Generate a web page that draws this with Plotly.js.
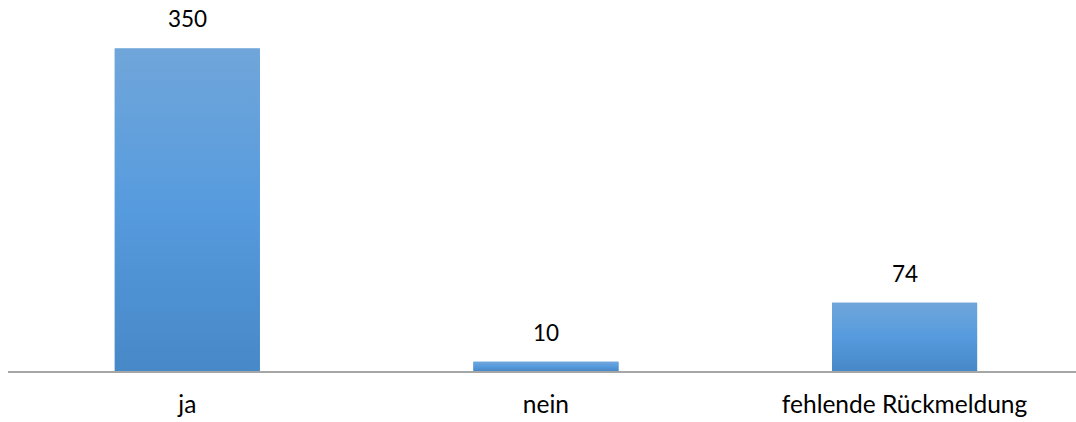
<!DOCTYPE html>
<html><head><meta charset="utf-8">
<script src="https://cdn.plot.ly/plotly-3.0.1.min.js"></script>
<style>html,body{margin:0;padding:0;background:#fff}#chart{width:1076px;height:422px}</style>
</head><body><div id="chart"></div>
<script>
const categories = ["ja", "nein", "fehlende Rückmeldung"];
const values = [350, 10, 74];
const valueLabels = ["350", "10", "74"];

const barWidth = 0.4045;
const FONT = "Lato, 'Open Sans', sans-serif";

const traces = [{
  type: "bar",
  x: categories.map((c, i) => i),
  y: values,
  width: barWidth,
  marker: {color: "#5b9bd5", line: {width: 0}},
  hoverinfo: "skip",
  showlegend: false
}];
// vertical gradient overlay for each bar, built from the same data
values.forEach((v, i) => {
  traces.push({
    type: "scatter", mode: "lines",
    x: [i - barWidth/2, i + barWidth/2, i + barWidth/2, i - barWidth/2, i - barWidth/2],
    y: [0, 0, v, v, 0],
    fill: "toself",
    fillgradient: {type: "vertical", colorscale: [[0, "#4788c7"], [0.5, "#569bde"], [1, "#70a6da"]]},
    line: {width: 0},
    hoverinfo: "skip", showlegend: false
  });
});

const annotations = values.map((v, i) => ({
  x: i, y: v, xref: "x", yref: "y",
  text: valueLabels[i], showarrow: false,
  yanchor: "bottom", yshift: 14,
  font: {family: FONT, size: 22.5, color: "#000"}
}));

const layout = {
  width: 1076, height: 422,
  margin: {l: 8, r: 0, t: 0, b: 51},
  paper_bgcolor: "#fff", plot_bgcolor: "#fff",
  showlegend: false,
  xaxis: {
    range: [-0.5, 2.478],
    tickmode: "array", tickvals: [0, 1, 2], ticktext: categories,
    showline: true, linecolor: "#a6a6a6", linewidth: 1.5,
    showgrid: false, zeroline: false, ticks: "",
    ticklabelstandoff: 11,
    tickfont: {family: FONT, size: 24.5, color: "#000"}
  },
  yaxis: {
    range: [0, 402.6], visible: false, showgrid: false, zeroline: false
  },
  annotations: annotations
};

Plotly.newPlot("chart", traces, layout, {displayModeBar: false, staticPlot: true});
</script></body></html>
